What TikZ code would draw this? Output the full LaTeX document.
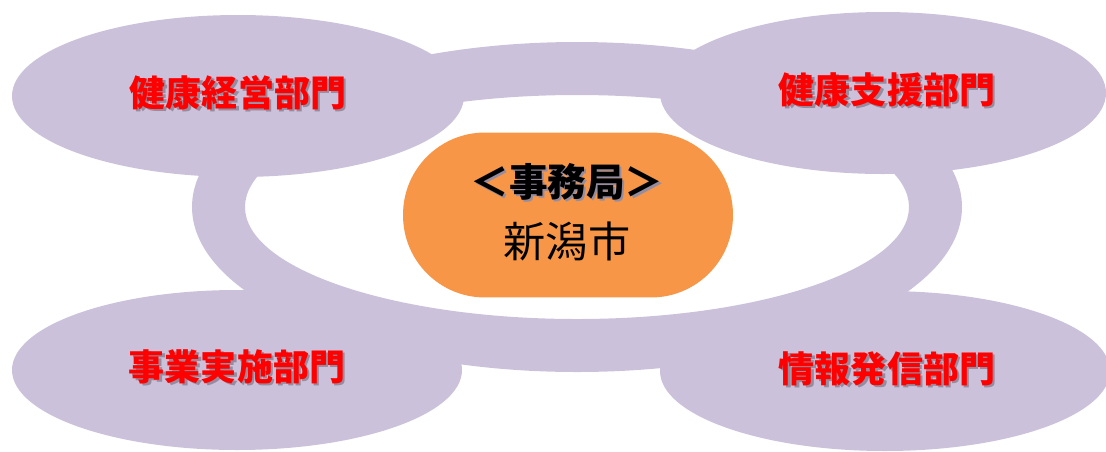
\documentclass[tikz,border=0pt]{standalone}
\usepackage{fontspec}
\newfontfamily\jpfont{Noto Sans CJK JP}
\definecolor{ringlilac}{RGB}{203,193,218}
\definecolor{boxorange}{RGB}{247,150,70}
\definecolor{shade}{RGB}{150,140,160}
% text with a soft drop shadow
\newcommand\shadowed[1]{\makebox[0pt][l]{\hspace{1.2pt}\raisebox{-1.2pt}{\textcolor{shade}{#1}}}#1}
\tikzset{
    dept/.style={ringlilac},
    deptlabel/.style={font=\jpfont\bfseries\fontsize{20.5}{24}\selectfont,text=red}
}
\begin{document}
\begin{tikzpicture}[x=0.02cm,y=-0.02cm]
    \useasboundingbox (0,0) rectangle (1106,451);

    % ring round the office
    \fill[dept,even odd rule] (577,207) ellipse [x radius=385,y radius=165]
                               (577,207) ellipse [x radius=332,y radius=112];

    % four departments
    \fill[dept] (238,96) ellipse [x radius=226,y radius=81];
    \fill[dept] (883,93) ellipse [x radius=223,y radius=81];
    \fill[dept] (237,370) ellipse [x radius=225,y radius=80];
    \fill[dept] (885,371) ellipse [x radius=225,y radius=80];

    \coordinate (TL) at (238,94);
    \coordinate (TR) at (887,91);
    \coordinate (BL) at (237,368);
    \coordinate (BR) at (887,370);

    \foreach \p/\t in {TL/健康経営部門,TR/健康支援部門,BL/事業実施部門,BR/情報発信部門}
        \node[deptlabel] (\p l) at (\p) {\shadowed{\t}};

    % office in the middle
    \node[fill=boxorange,rounded corners=1.64cm,minimum width=6.6cm,
          minimum height=3.3cm,inner sep=0pt] (office) at (568,215) {};
    \node[font=\jpfont\bfseries\fontsize{22}{26}\selectfont] (head) at (567,183) {\shadowed{＜事務局＞}};
    \node[font=\jpfont\fontsize{24}{28}\selectfont] (city) at (567,241) {新潟市};
\end{tikzpicture}
\end{document}
